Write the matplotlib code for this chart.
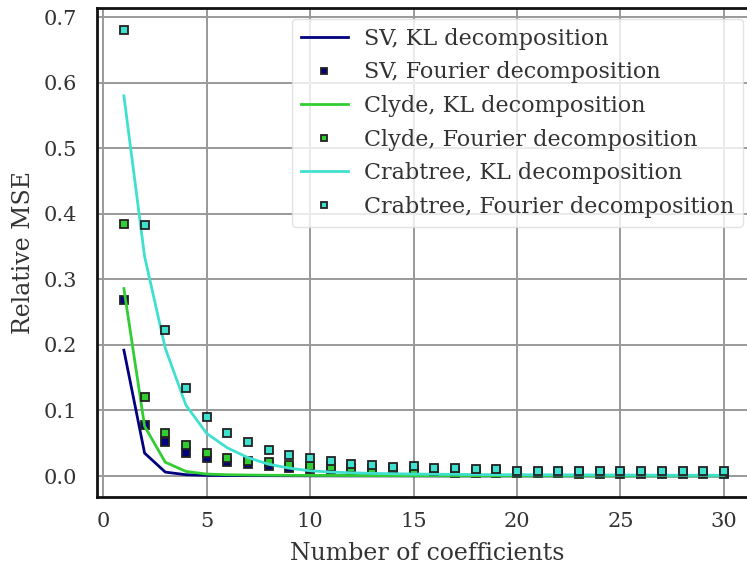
import numpy as np
import matplotlib
matplotlib.use("Agg")
import matplotlib.pyplot as plt

# number of retained coefficients
n_coef = np.arange(1, 31)

# relative MSE, KL decomposition (lines)
sv_kl = [0.192, 0.035, 0.006, 0.002, 0.001, 0.0008, 0.0006, 0.0005, 0.0004, 0.0003,
         0.0003, 0.0002, 0.0002, 0.0002, 0.0002, 0.0001, 0.0001, 0.0001, 0.0001, 0.0001,
         0.0001, 0.0001, 0.0001, 0.0001, 0.0001, 0.0001, 0.0001, 0.0001, 0.0001, 0.0001]
clyde_kl = [0.286, 0.076, 0.021, 0.007, 0.003, 0.002, 0.0015, 0.0012, 0.001, 0.0009,
            0.0008, 0.0007, 0.0006, 0.0006, 0.0005, 0.0005, 0.0004, 0.0004, 0.0004, 0.0003,
            0.0003, 0.0003, 0.0003, 0.0003, 0.0002, 0.0002, 0.0002, 0.0002, 0.0002, 0.0002]
crab_kl = [0.580, 0.335, 0.195, 0.108, 0.065, 0.043, 0.028, 0.018, 0.012, 0.008,
           0.006, 0.005, 0.004, 0.0035, 0.003, 0.0028, 0.0025, 0.0023, 0.0021, 0.002,
           0.0019, 0.0018, 0.0017, 0.0016, 0.0015, 0.0014, 0.0013, 0.0012, 0.0012, 0.0011]

# relative MSE, Fourier decomposition (markers)
sv_four = [0.268, 0.078, 0.052, 0.035, 0.027, 0.021, 0.018, 0.015, 0.012, 0.010,
           0.009, 0.008, 0.007, 0.0065, 0.006, 0.0055, 0.005, 0.005, 0.0045, 0.004,
           0.004, 0.004, 0.0035, 0.0035, 0.003, 0.003, 0.003, 0.003, 0.003, 0.003]
clyde_four = [0.385, 0.120, 0.066, 0.047, 0.035, 0.027, 0.023, 0.021, 0.017, 0.015,
              0.014, 0.012, 0.011, 0.010, 0.009, 0.008, 0.008, 0.007, 0.007, 0.006,
              0.006, 0.006, 0.0055, 0.0055, 0.005, 0.005, 0.005, 0.005, 0.0045, 0.0045]
crab_four = [0.680, 0.383, 0.223, 0.134, 0.090, 0.066, 0.052, 0.040, 0.032, 0.028,
             0.023, 0.018, 0.017, 0.014, 0.015, 0.013, 0.012, 0.011, 0.011, 0.008,
             0.008, 0.008, 0.008, 0.008, 0.007, 0.007, 0.007, 0.007, 0.007, 0.007]

plt.rcParams['font.family'] = 'DejaVu Serif'

W, H = 747, 569
fig = plt.figure(figsize=(W / 100, H / 100), dpi=100)
# axes run past the right edge of the picture (cropped original)
ax = fig.add_axes([97 / W, (H - 497) / H, 660 / W, 489 / H])

ax.grid(True, color='#999999', linewidth=1.4, zorder=0)
ax.set_axisbelow(True)

mk = dict(ls='none', marker='s', ms=6, mec='#222222', mew=1.3)
ax.plot(n_coef, sv_kl, color='navy', lw=2, label='SV, KL decomposition')
ax.plot(n_coef, sv_four, color='navy', label='SV, Fourier decomposition', **mk)
ax.plot(n_coef, clyde_kl, color='limegreen', lw=2, label='Clyde, KL decomposition')
ax.plot(n_coef, clyde_four, color='limegreen', label='Clyde, Fourier decomposition', **mk)
ax.plot(n_coef, crab_kl, color='turquoise', lw=2, label='Crabtree, KL decomposition')
ax.plot(n_coef, crab_four, color='turquoise', label='Crabtree, Fourier decomposition', **mk)

ax.set_xlim(-0.3, 31.6)
ax.set_ylim(-0.032, 0.714)
ax.set_xticks([0, 5, 10, 15, 20, 25, 30])
ax.set_yticks(np.arange(0, 0.71, 0.1))
ax.set_yticklabels([f'{v:.1f}' for v in np.arange(0, 0.71, 0.1)])
ax.tick_params(labelsize=15, length=0, labelcolor='#333333')
ax.tick_params(axis='x', pad=10.5)
ax.tick_params(axis='y', pad=14.5)

for spine in ax.spines.values():
    spine.set_color('#111111')
    spine.set_linewidth(2)

ax.set_xlabel('Number of coefficients', fontsize=17, color='#333333', labelpad=8)
ax.set_ylabel('Relative MSE', fontsize=17, color='#333333', labelpad=6)

ax.legend(loc='upper left', bbox_to_anchor=(292 / W, 1 - 19 / H), bbox_transform=fig.transFigure,
          borderaxespad=0, fontsize=16, handlelength=2.1, handletextpad=0.75, labelspacing=0.52,
          markerscale=0.8, framealpha=0.8, edgecolor='#dddddd', labelcolor='#333333')

fig.savefig('out.png', dpi=100)
